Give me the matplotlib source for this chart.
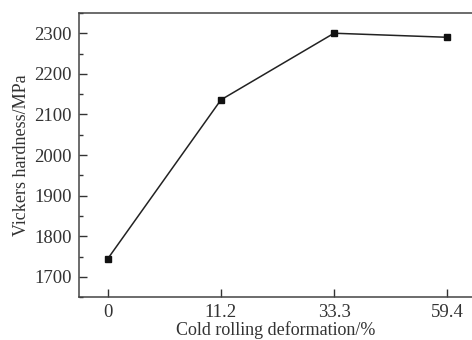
import matplotlib
matplotlib.use('Agg')
import matplotlib.pyplot as plt
from matplotlib.ticker import MultipleLocator

plt.rcParams['font.family'] = ['Liberation Serif', 'DejaVu Serif']

deformation = ['0', '11.2', '33.3', '59.4']
hardness = [1745, 2136, 2300, 2290]

fig = plt.figure(figsize=(4.72, 3.4), dpi=100)
ax = fig.add_axes([0.167, 0.126, 0.833, 0.836])

x = range(len(deformation))
ax.plot(x, hardness, color='#222222', linewidth=1.1, marker='s', markersize=5,
        markerfacecolor='#111111', markeredgecolor='#111111')

ax.set_xlim(-0.257, 3.22)
ax.set_ylim(1650, 2350)
ax.set_xticks(list(x))
ax.set_xticklabels(deformation)
ax.yaxis.set_major_locator(MultipleLocator(100))
ax.yaxis.set_minor_locator(MultipleLocator(50))

ax.tick_params(axis='both', which='major', direction='in', length=6, width=1,
               labelsize=13.5, labelcolor='#333333', color='#333333')
ax.tick_params(axis='y', which='minor', direction='in', length=3, width=1, color='#333333')
ax.tick_params(axis='x', which='major', pad=5)
ax.tick_params(axis='y', which='major', pad=5)

ax.spines['right'].set_visible(False)
for s in ['left', 'top', 'bottom']:
    ax.spines[s].set_color('#444444')
    ax.spines[s].set_linewidth(1.1)

ax.set_xlabel('Cold rolling deformation/%', fontsize=13, color='#333333', labelpad=0)
ax.set_ylabel('Vickers hardness/MPa', fontsize=13, color='#333333', labelpad=3)

fig.savefig('out.png', dpi=100)
